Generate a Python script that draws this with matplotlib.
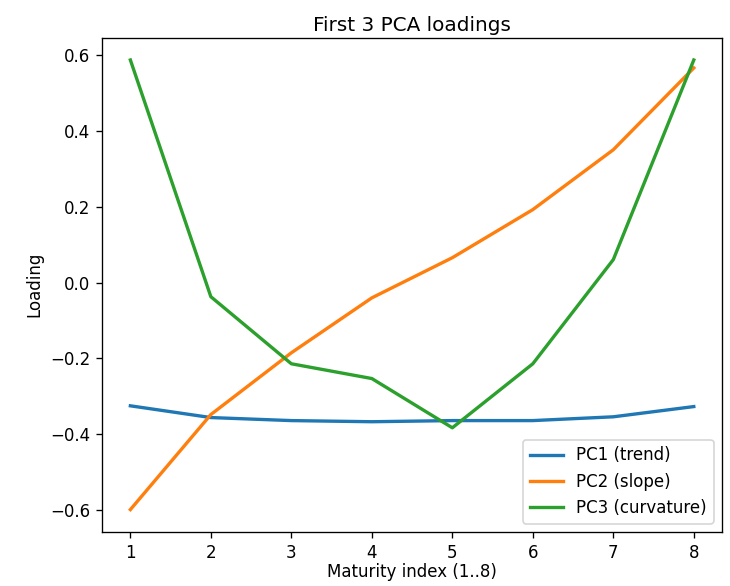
import matplotlib
matplotlib.use("Agg")
import matplotlib.pyplot as plt

maturity = [1, 2, 3, 4, 5, 6, 7, 8]
pc1 = [-0.325, -0.356, -0.364, -0.367, -0.364, -0.364, -0.354, -0.327]
pc2 = [-0.599, -0.348, -0.185, -0.040, 0.066, 0.193, 0.351, 0.567]
pc3 = [0.588, -0.037, -0.214, -0.253, -0.383, -0.214, 0.061, 0.588]
labels = ["PC1 (trend)", "PC2 (slope)", "PC3 (curvature)"]


def main():
    fig = plt.figure(figsize=(730 / 120, 586 / 120), dpi=120)
    ax = fig.add_axes([0.140, 0.092, 0.849, 0.844])
    for vals, lab in zip([pc1, pc2, pc3], labels):
        ax.plot(maturity, vals, linewidth=2, label=lab)
    ax.set_title("First 3 PCA loadings", pad=4)
    ax.set_xlabel("Maturity index (1..8)", labelpad=1)
    ax.set_ylabel("Loading")
    ax.legend(loc="lower right")
    fig.savefig("out.png", dpi=120)


if __name__ == "__main__":
    main()
